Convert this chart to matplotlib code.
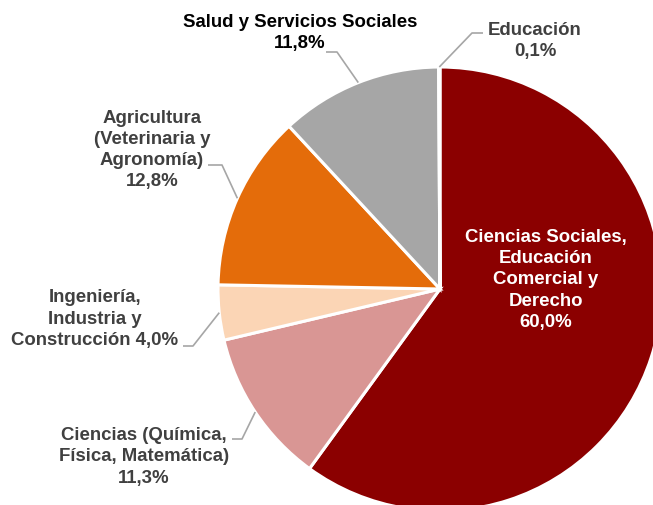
import numpy as np
import matplotlib
matplotlib.use("Agg")
import matplotlib.pyplot as plt

# data (percent of total)
labels = [
    "Ciencias Sociales,\nEducación\nComercial y\nDerecho",
    "Ciencias (Química,\nFísica, Matemática)",
    "Ingeniería,\nIndustria y\nConstrucción",
    "Agricultura\n(Veterinaria y\nAgronomía)",
    "Salud y Servicios Sociales",
    "Educación",
]
values = [60.0, 11.3, 4.0, 12.8, 11.8, 0.1]
colors = ["#8B0000", "#D99694", "#FBD5B5", "#E46C0A", "#A6A6A6", "#C0504D"]

W, H = 653, 506
CX, CY, R = 440, 290, 222


def py(y):
    # pixel row (top-down) -> data y (bottom-up)
    return H - y


fig = plt.figure(figsize=(W / 100, H / 100), dpi=100)
ax = fig.add_axes([0, 0, 1, 1])

wedges, _ = ax.pie(values, colors=colors, startangle=90, counterclock=False,
                   center=(CX, py(CY)), radius=R, frame=True,
                   wedgeprops=dict(edgecolor="white", linewidth=2.2))
ax.set_xlim(0, W)
ax.set_ylim(0, H)
ax.set_aspect("equal")
ax.axis("off")

fnt = dict(family=["Liberation Sans", "DejaVu Sans"], weight="bold", fontsize=13.4,
           linespacing=1.33, ha="center", va="center")

# label text: (x, y) centre of block, colour, elbow, line end
layout = {
    1: ((144, 457), "#404040", (242, 440), (232, 440), "{}\n{}%"),
    2: ((95, 319), "#404040", (193, 347), (183, 347), "{} {}%"),
    3: ((152, 150), "#404040", (222, 166), (208, 166), "{}\n{}%"),
    4: ((300, 33), "#000000", (337, 53), (326, 53), "{}\n{}%"),
    5: ((535, 41), "#404040", (472, 34), (483, 34), "{}\n{}%"),
}

for i, w in enumerate(wedges):
    pct = f"{values[i]:.1f}".replace(".", ",")
    if i == 0:
        ax.text(546, py(280), f"{labels[i]}\n{pct}%", color="white", **fnt)
        continue
    (tx, ty), col, elbow, end, fmt = layout[i]
    mid = np.deg2rad((w.theta1 + w.theta2) / 2)
    x0 = CX + R * np.cos(mid)
    y0 = py(CY) + R * np.sin(mid)
    ax.plot([x0, elbow[0], end[0]], [y0, py(elbow[1]), py(end[1])],
            color="#A6A6A6", lw=1.2, solid_capstyle="butt", zorder=5)
    ax.text(tx, py(ty), fmt.format(labels[i], pct), color=col, **fnt)

fig.savefig("out.png", dpi=100)
